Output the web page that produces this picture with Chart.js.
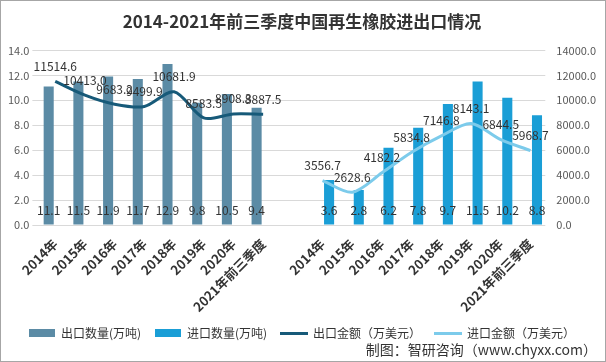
<!DOCTYPE html>
<html>
<head>
<meta charset="utf-8">
<script src="https://cdn.jsdelivr.net/npm/chart.js@4/dist/chart.umd.min.js"></script>
<style>
	html, body { margin: 0; padding: 0; background: #fff; }
	#wrap { position: relative; width: 606px; height: 362px; box-sizing: border-box; border: 1px solid #a6a6a6; }
	#src { position: absolute; right: 8px; bottom: 2px; font: 14px "Noto Sans CJK SC", sans-serif; color: #333; }
</style>
</head>
<body>
<div id="wrap">
	<canvas id="c" width="604" height="360"></canvas>
	<div id="src">制图：智研咨询（www.chyxx.com）</div>
</div>
<script>
	var categories = ['2014年', '2015年', '2016年', '2017年', '2018年', '2019年', '2020年', '2021年前三季度', '',
		'2014年', '2015年', '2016年', '2017年', '2018年', '2019年', '2020年', '2021年前三季度'];
	var exportQty = [11.1, 11.5, 11.9, 11.7, 12.9, 9.8, 10.5, 9.4, null,
		null, null, null, null, null, null, null, null];
	var importQty = [null, null, null, null, null, null, null, null, null,
		3.6, 2.8, 6.2, 7.8, 9.7, 11.5, 10.2, 8.8];
	var exportValue = [11514.6, 10413.0, 9683.2, 9499.9, 10681.9, 8583.5, 8908.3, 8887.5, null,
		null, null, null, null, null, null, null, null];
	var importValue = [null, null, null, null, null, null, null, null, null,
		3556.7, 2628.6, 4182.2, 5834.8, 7146.8, 8143.1, 6844.5, 5968.7];
	var leftTicks = [0, 2, 4, 6, 8, 10, 12, 14];
	var rightTicks = [0, 2000, 4000, 6000, 8000, 10000, 12000, 14000];

	var cjk = '"Noto Sans CJK SC", sans-serif';

	function legendIcon(color, w, h) {
		var cv = document.createElement('canvas');
		cv.width = w; cv.height = h;
		var g = cv.getContext('2d');
		g.fillStyle = color;
		g.fillRect(0, 0, w, h);
		return cv;
	}

	// value labels: bars near the base, lines above the point
	var valueLabels = {
		id: 'valueLabels',
		afterDatasetsDraw: function(chart) {
			var ctx = chart.ctx;
			ctx.save();
			ctx.font = '12px ' + cjk;
			ctx.fillStyle = '#333';
			ctx.textAlign = 'center';
			ctx.textBaseline = 'middle';
			chart.data.datasets.forEach(function(ds, i) {
				var meta = chart.getDatasetMeta(i);
				meta.data.forEach(function(el, j) {
					var v = ds.data[j];
					if (v == null) return;
					var y = ds.type == 'line' ? el.y - 15 : chart.scales.y.bottom - 15;
					ctx.fillText(v.toFixed(1), el.x, y);
				});
			});
			ctx.restore();
		}
	};

	new Chart(document.getElementById('c'), {
		data: {
			labels: categories,
			datasets: [
				{ type: 'bar', label: '出口数量(万吨)', data: exportQty, backgroundColor: '#5b8ba5', yAxisID: 'y', order: 2,
					categoryPercentage: 0.88, barPercentage: 0.77, pointStyle: legendIcon('#5b8ba5', 26, 8) },
				{ type: 'bar', label: '进口数量(万吨)', data: importQty, backgroundColor: '#1a9ed6', yAxisID: 'y', order: 2,
					categoryPercentage: 0.88, barPercentage: 0.77, pointStyle: legendIcon('#1a9ed6', 26, 8) },
				{ type: 'line', label: '出口金额（万美元）', data: exportValue, borderColor: '#175a79', borderWidth: 3,
					pointRadius: 0, tension: 0.3, yAxisID: 'y1', order: 1, pointStyle: legendIcon('#175a79', 28, 3) },
				{ type: 'line', label: '进口金额（万美元）', data: importValue, borderColor: '#7ccbeb', borderWidth: 3,
					pointRadius: 0, tension: 0.3, yAxisID: 'y1', order: 1, pointStyle: legendIcon('#7ccbeb', 28, 3) }
			]
		},
		options: {
			responsive: false,
			animation: false,
			layout: { padding: { left: 4, right: 6, top: 0, bottom: 12 } },
			plugins: {
				tooltip: { enabled: false },
				title: {
					display: true,
					text: '2014-2021年前三季度中国再生橡胶进出口情况',
					font: { family: cjk, size: 17, weight: 'bold' },
					color: '#333',
					padding: { top: 10, bottom: 19 }
				},
				legend: {
					position: 'bottom',
					labels: {
						usePointStyle: true,
						pointStyleWidth: 26,
						font: { family: cjk, size: 12 },
						color: '#333',
						padding: 14,
						sort: function(a, b) { return a.datasetIndex - b.datasetIndex; }
					}
				}
			},
			scales: {
				x: {
					grid: { display: false },
					border: { display: false },
					afterFit: function(s) { s.height = 88; },
					ticks: {
						autoSkip: false, minRotation: 45, maxRotation: 45,
						font: { family: cjk, size: 13, weight: 'bold' }, color: '#333'
					}
				},
				y: {
					position: 'left', min: 0, max: 14,
					afterBuildTicks: function(s) { s.ticks = leftTicks.map(function(v) { return { value: v }; }); },
					grid: { color: '#d9d9d9' },
					border: { display: false },
					ticks: { callback: function(v) { return v.toFixed(1); }, font: { family: cjk, size: 11 }, color: '#595959' }
				},
				y1: {
					position: 'right', min: 0, max: 14000,
					afterBuildTicks: function(s) { s.ticks = rightTicks.map(function(v) { return { value: v }; }); },
					grid: { display: false },
					border: { display: false },
					ticks: { callback: function(v) { return v.toFixed(1); }, font: { family: cjk, size: 11 }, color: '#595959' }
				}
			}
		},
		plugins: [valueLabels]
	});
</script>
</body>
</html>
